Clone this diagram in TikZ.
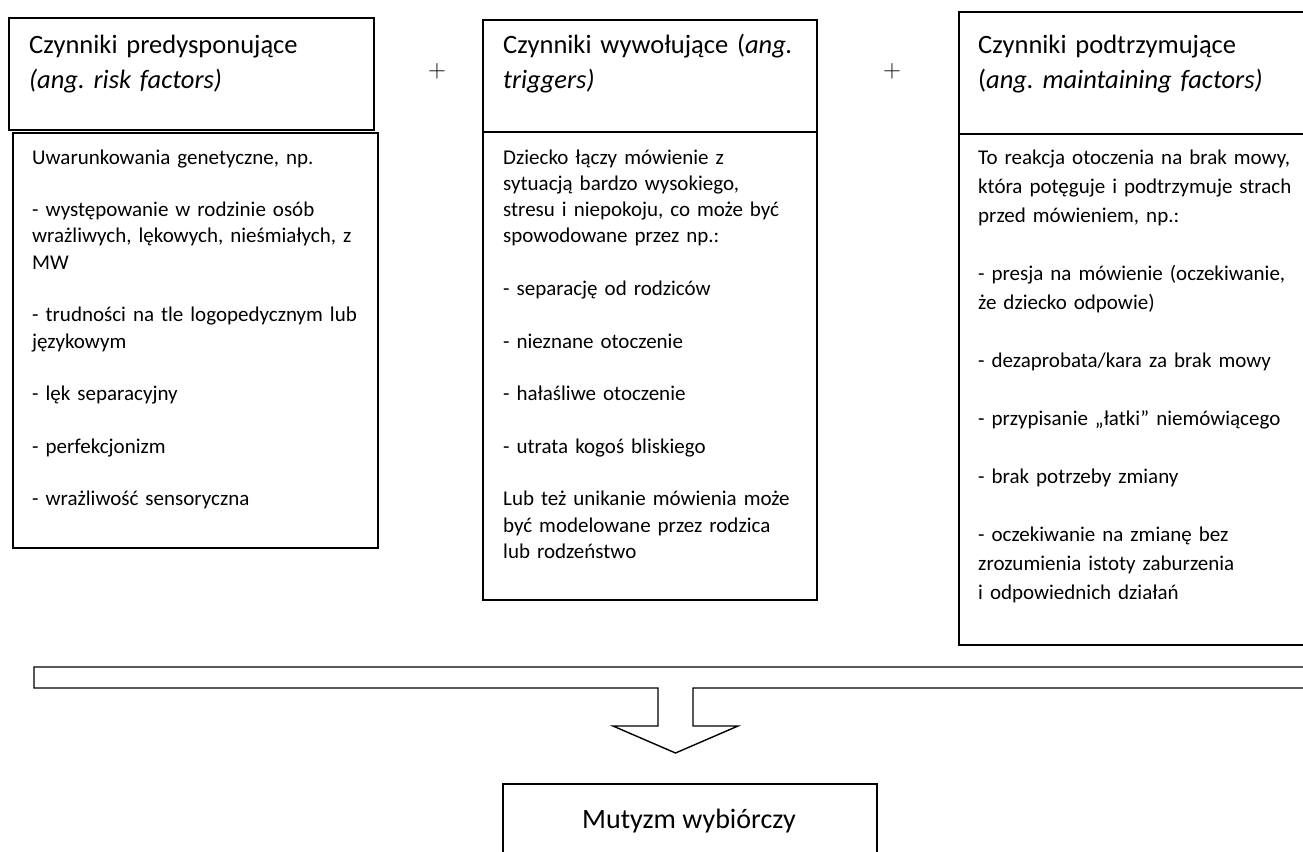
\documentclass[tikz,border=0pt]{standalone}
\usepackage{fontspec}
\setmainfont{Carlito}
\usepackage{tikz}
\frenchspacing

\begin{document}
\begin{tikzpicture}[x=1pt,y=-1pt,
  box/.style={draw,line width=1.8pt,anchor=north west,inner sep=0pt},
  headtext/.style={anchor=base west,inner sep=0pt,text width=360pt,align=left,
    font=\fontsize{26.5}{34.5}\selectfont},
  bodytext/.style={anchor=base west,inner sep=0pt,text width=360pt,align=left,
    font=\fontsize{21}{26.3}\selectfont},
  arrowline/.style={draw,line width=1.4pt,line join=miter}]
\useasboundingbox (0,0) rectangle (1303,851);
\clip (0,0) rectangle (1303,851);
% boxes: x/y/width/height/name
\foreach \x/\y/\w/\h/\n in {8/17/365/112/predH, 12/132/365/415/predB,
    482/19/334/112/wywH, 482/131/334/468/wywB,
    958/11/360/122/podtH, 958/133/360/511/podtB}
  \node[box, minimum width=\w, minimum height=\h] (\n) at (\x,\y) {};
\node[box, line width=1.6pt, minimum width=374, minimum height=100] (mutyzm) at (502,783) {};
\foreach \x/\n in {437/plus1, 892/plus2}
  \node[inner sep=0pt, font=\fontsize{23}{23}\selectfont] (\n) at (\x,71) {$+$};
% headers
\node[headtext] (predT) at (29,54) {Czynniki predysponujące\\ \textit{(ang. risk factors)}};
\node[headtext] (wywT) at (503,54) {Czynniki wywołujące (\textit{ang.}\\ \textit{triggers)}};
\node[headtext] (podtT) at (978,54) {Czynniki podtrzymujące\\ (\textit{ang. maintaining factors)}};
% lists
\node[bodytext] (predL) at (32,164) {Uwarunkowania genetyczne, np.\\[\baselineskip]
- występowanie w rodzinie osób\\
wrażliwych, lękowych, nieśmiałych, z\\
MW\\[\baselineskip]
- trudności na tle logopedycznym lub\\
językowym\\[\baselineskip]
- lęk separacyjny\\[\baselineskip]
- perfekcjonizm\\[\baselineskip]
- wrażliwość sensoryczna};
\node[bodytext] (wywL) at (503,164) {Dziecko łączy mówienie z\\
sytuacją bardzo wysokiego,\\
stresu i niepokoju, co może być\\
spowodowane przez np.:\\[\baselineskip]
- separację od rodziców\\[\baselineskip]
- nieznane otoczenie\\[\baselineskip]
- hałaśliwe otoczenie\\[\baselineskip]
- utrata kogoś bliskiego\\[\baselineskip]
Lub też unikanie mówienia może\\
być modelowane przez rodzica\\
lub rodzeństwo};
\node[bodytext, font=\fontsize{21}{29}\selectfont] (podtL) at (978,164) {To reakcja otoczenia na brak mowy,\\
która potęguje i podtrzymuje strach\\
przed mówieniem, np.:\\[\baselineskip]
- presja na mówienie (oczekiwanie,\\
że dziecko odpowie)\\[\baselineskip]
- dezaprobata/kara za brak mowy\\[\baselineskip]
- przypisanie „łatki” niemówiącego\\[\baselineskip]
- brak potrzeby zmiany\\[\baselineskip]
- oczekiwanie na zmianę bez\\
zrozumienia istoty zaburzenia\\
i odpowiednich działań};
% big arrow down to the result
\draw[arrowline] (1320,667) -- (34,667) -- (34,688) -- (658,688) -- (658,726)
  -- (613,726) -- (675.5,753) -- (738,726) -- (693,726) -- (693,688) -- (1320,688);
\node[anchor=base, inner sep=0pt, font=\fontsize{28}{34}\selectfont] (mutyzmT) at (689,828) {Mutyzm wybiórczy};
\end{tikzpicture}
\end{document}
